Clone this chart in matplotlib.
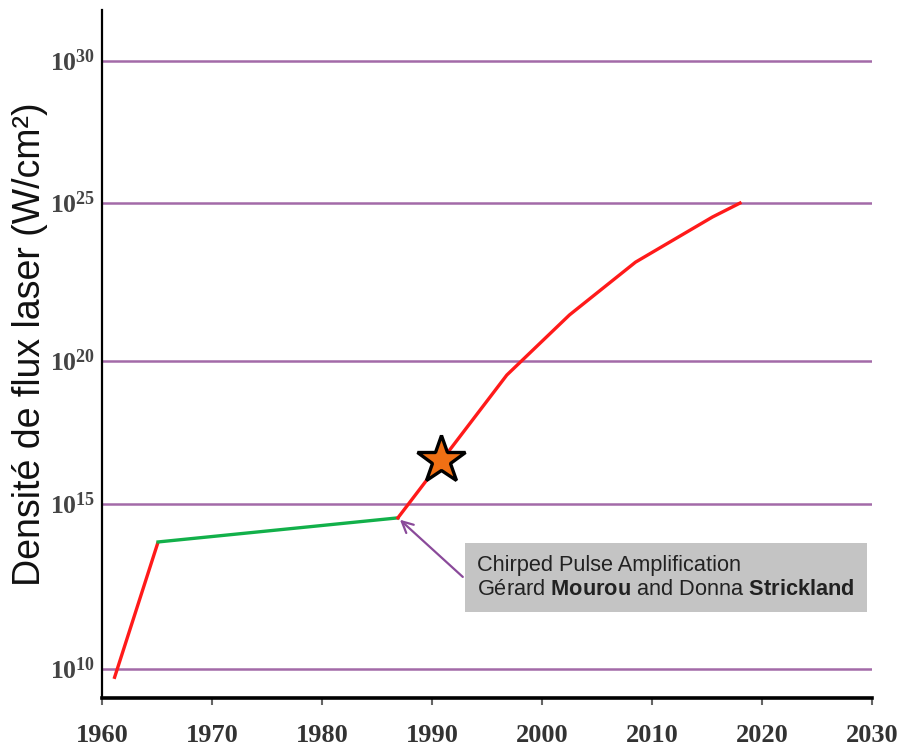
import numpy as np
import matplotlib
matplotlib.use("Agg")
import matplotlib.pyplot as plt
from matplotlib.scale import FuncScale

# --- data (years, log10 of flux density) ---
years_early = [1961.1, 1965.1]
logflux_early = [9.70, 13.85]

years_plateau = [1965.1, 1986.9]
logflux_plateau = [13.85, 14.58]

years_cpa = [1986.9, 1996.8, 2002.5, 2008.5, 2015.5, 2018.0]
logflux_cpa = [14.58, 19.51, 21.46, 23.13, 24.56, 25.0]

star_year = [1990.8]
star_logflux = [16.54]

xticks = [1960, 1970, 1980, 1990, 2000, 2010, 2020, 2030]
ytick_exp = [10, 15, 20, 25, 30]

plt.rcParams['mathtext.fontset'] = 'custom'
plt.rcParams['mathtext.bf'] = 'Liberation Serif:bold'
plt.rcParams['mathtext.rm'] = 'Liberation Sans'
plt.rcParams['mathtext.tt'] = 'Liberation Sans:bold'

# the original gridlines are not evenly spaced, so map decades piecewise
knots_dec = [5, 10, 15, 20, 25, 30, 35]
knots_pos = [-165, 0, 165, 308, 466, 608.3, 750.3]


def fwd(y):
    y = np.asarray(y, dtype=float)
    return np.interp(np.log10(np.clip(y, 1e-300, None)), knots_dec, knots_pos)


def inv(p):
    return 10.0 ** np.interp(np.asarray(p, dtype=float), knots_pos, knots_dec)


fig = plt.figure(figsize=(9.16, 7.51), dpi=100)
ax = fig.add_axes([102 / 916, 53 / 751, 770 / 916, 688 / 751])
ax.set_yscale(FuncScale(ax.yaxis, (fwd, inv)))

red = '#ff1a1a'
green = '#12b04a'
purple = '#a36aa8'

ax.plot(years_early, [10 ** v for v in logflux_early], color=red, lw=2.4,
        solid_capstyle='butt', zorder=3)
ax.plot(years_plateau, [10 ** v for v in logflux_plateau], color=green, lw=2.4,
        zorder=3)
ax.plot(years_cpa, [10 ** v for v in logflux_cpa], color=red, lw=2.4, zorder=3)
ax.plot(star_year, [10 ** v for v in star_logflux], marker='*', ms=36,
        mfc='#f07014', mec='black', mew=2.4, ls='none', zorder=4)

ax.set_xlim(1960, 2030)
ax.set_ylim(10 ** 9.12, 10 ** 31.79)

ax.set_xticks(xticks)
ax.set_xticklabels([str(t) for t in xticks], family='Liberation Serif',
                   fontweight='bold', fontsize=19, color='#333333')
ax.set_yticks([10.0 ** e for e in ytick_exp])
ax.set_yticklabels([r'$\mathbf{10^{%d}}$' % e for e in ytick_exp],
                   fontsize=18.5, color='#444444')
ax.yaxis.set_minor_locator(matplotlib.ticker.NullLocator())
ax.tick_params(axis='x', direction='out', length=5, width=1.5, color='#666666',
               pad=14)
ax.tick_params(axis='y', length=0, pad=5)

ax.grid(axis='y', color=purple, lw=1.8)
ax.set_axisbelow(True)

for s in ['top', 'right']:
    ax.spines[s].set_visible(False)
ax.spines['left'].set_linewidth(1.6)
ax.spines['bottom'].set_linewidth(2.6)

fig.text(30 / 916, 1 - 344 / 751, 'Densité de flux laser (W/cm²)',
         rotation=90, ha='center', va='center', fontsize=27,
         family='Liberation Sans', color='#111111')

# annotation box and arrow
ax.text(1994.1, 10 ** 12.77,
        'Chirped Pulse Amplification\n'
        r'Gérard $\mathtt{Mourou}$ and Donna $\mathtt{Strickland}$',
        ha='left', va='center', fontsize=15.7, family='Liberation Sans',
        color='#222222', linespacing=1.2, zorder=5,
        bbox=dict(boxstyle='square,pad=0.55', fc='#c4c4c4', ec='none'))
ax.annotate('', xy=(years_plateau[-1], 10 ** logflux_plateau[-1]),
            xytext=(1992.8, 10 ** 12.79),
            arrowprops=dict(arrowstyle='->,head_length=0.8,head_width=0.4',
                            color='#8a4a9a', lw=1.6, shrinkA=0, shrinkB=2),
            zorder=4)

fig.savefig('out.png', dpi=100)
